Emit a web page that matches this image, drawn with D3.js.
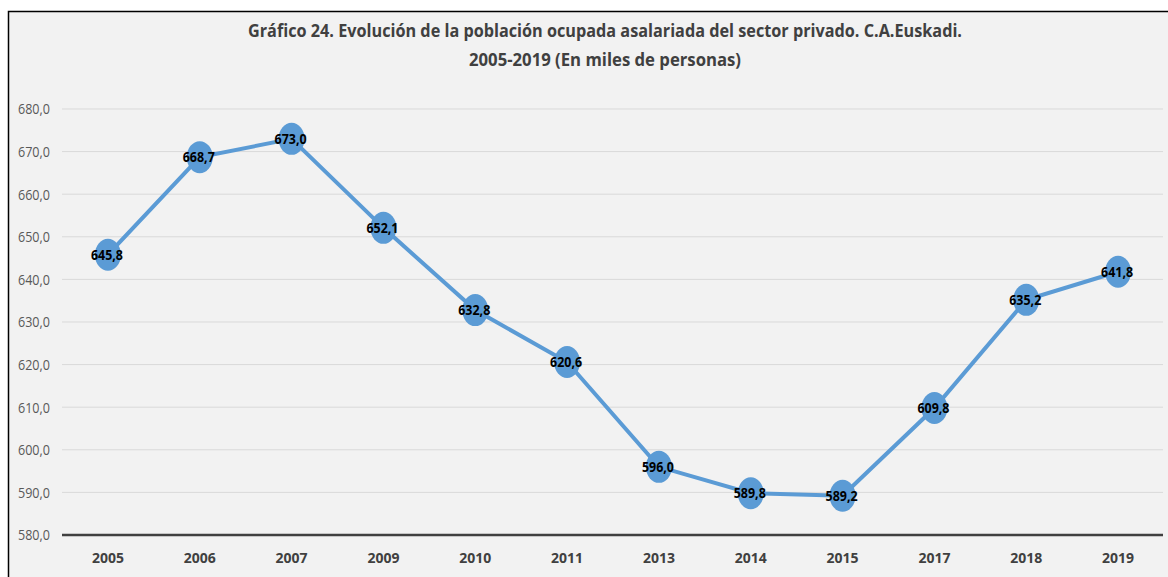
<!DOCTYPE html>
<html>
<head>
<meta charset="utf-8">
<script src="https://cdn.jsdelivr.net/npm/d3@7"></script>
<style>
  body { margin: 0; background: #fff; }
  svg { display: block; }
</style>
</head>
<body>
<svg id="chart" width="1168" height="577"></svg>
<script>
// data
const years = ["2005","2006","2007","2009","2010","2011","2013","2014","2015","2017","2018","2019"];
const values = [645.8, 668.7, 673.0, 652.1, 632.8, 620.6, 596.0, 589.8, 589.2, 609.8, 635.2, 641.8];
const yTicks = [580, 590, 600, 610, 620, 630, 640, 650, 660, 670, 680];
const titleLines = [
    "Gráfico 24. Evolución de la población ocupada asalariada del sector privado. C.A.Euskadi.",
    "2005-2019 (En miles de personas)"
];
const titleWidths = [714, 272];

const FONT = "'Open Sans', sans-serif";
const svg = d3.select("#chart");
const fmt = d => d3.format(".1f")(d).replace(".", ",");

// frame
svg.append("rect")
    .attr("x", 8.5).attr("y", 11.5)
    .attr("width", 1200).attr("height", 600)
    .attr("fill", "#f2f2f2")
    .attr("stroke", "#000").attr("stroke-width", 1.5);

// title (calibri-like narrow look)
svg.append("g").selectAll("text").data(titleLines).join("text")
    .attr("x", 605)
    .attr("y", (d, i) => 37 + i * 29)
    .attr("text-anchor", "middle")
    .attr("font-family", FONT)
    .attr("font-weight", "bold")
    .attr("font-size", 18)
    .attr("fill", "#404040")
    .attr("textLength", (d, i) => titleWidths[i])
    .attr("lengthAdjust", "spacingAndGlyphs")
    .text(d => d);

// scales
const xScale = d3.scaleBand().domain(years).range([62, 1164]);
const yScale = d3.scaleLinear().domain([580, 680]).range([535, 109]);

// grid
svg.append("g").selectAll("line").data(yTicks.filter(t => t !== 580)).join("line")
    .attr("x1", 62).attr("x2", 1163)
    .attr("y1", d => yScale(d)).attr("y2", d => yScale(d))
    .attr("stroke", "#d9d9d9").attr("stroke-width", 1);

// y axis labels
const yAxis = d3.axisLeft(yScale).tickValues(yTicks).tickSize(0).tickPadding(0)
    .tickFormat(fmt);
svg.append("g")
    .attr("transform", "translate(50,0)")
    .call(yAxis)
    .call(g => g.select(".domain").remove())
    .call(g => g.selectAll("text")
        .attr("font-family", FONT)
        .attr("font-size", 15)
        .attr("fill", "#595959")
        .attr("textLength", 32)
        .attr("lengthAdjust", "spacingAndGlyphs"));

// x axis
const xAxis = d3.axisBottom(xScale).tickSize(0).tickPadding(17);
svg.append("g")
    .attr("transform", "translate(0,535)")
    .call(xAxis)
    .call(g => g.select(".domain").attr("stroke", "#404040").attr("stroke-width", 2.5)
        .attr("d", "M62,0H1163"))
    .call(g => g.selectAll("text")
        .attr("font-family", FONT)
        .attr("font-weight", "bold")
        .attr("font-size", 15)
        .attr("fill", "#404040")
        .attr("textLength", 32)
        .attr("lengthAdjust", "spacingAndGlyphs"));

const cx = (d, i) => xScale(years[i]) + xScale.bandwidth() / 2;

// line
const line = d3.line()
    .x((d, i) => cx(d, i))
    .y(d => yScale(d));
svg.append("path")
    .datum(values)
    .attr("d", line)
    .attr("fill", "none")
    .attr("stroke", "#5b9bd5")
    .attr("stroke-width", 4);

// markers
svg.append("g").selectAll("ellipse").data(values).join("ellipse")
    .attr("cx", cx)
    .attr("cy", d => yScale(d))
    .attr("rx", 13).attr("ry", 16)
    .attr("fill", "#5b9bd5");

// data labels
svg.append("g").selectAll("text").data(values).join("text")
    .attr("x", (d, i) => cx(d, i) - 1)
    .attr("y", d => yScale(d) + 5)
    .attr("text-anchor", "middle")
    .attr("font-family", FONT)
    .attr("font-weight", "bold")
    .attr("font-size", 15)
    .attr("fill", "#000")
    .attr("textLength", 32)
    .attr("lengthAdjust", "spacingAndGlyphs")
    .text(fmt);
</script>
</body>
</html>
